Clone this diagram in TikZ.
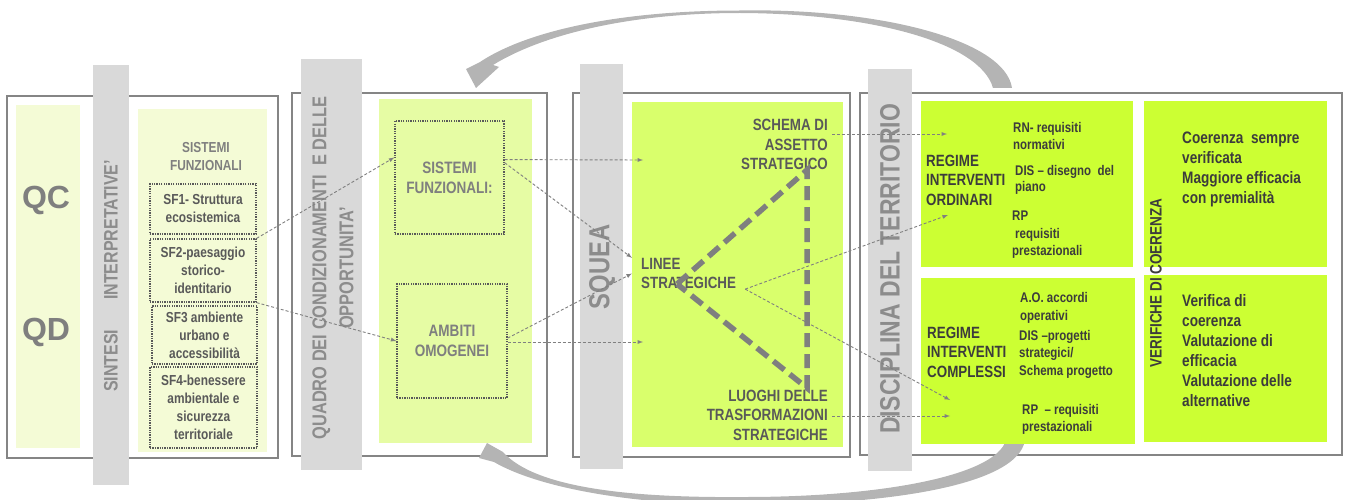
\documentclass[tikz,border=0pt]{standalone}
\usepackage{fontspec}
\setmainfont{Liberation Sans}[FakeStretch=0.82]
\newfontfamily\widefont{Liberation Sans}
\usepackage{tikz}
\usepackage{color}

\definecolor{bargray}{HTML}{D9D9D9}
\definecolor{framegray}{HTML}{858585}
\definecolor{arcgray}{HTML}{B4B4B4}
\definecolor{paleA}{HTML}{F4FBD6}
\definecolor{paleB}{HTML}{E6FCA4}
\definecolor{limeC}{HTML}{D9FF6C}
\definecolor{limeD}{HTML}{CCFF33}
\definecolor{txtlight}{HTML}{7F7F7F}
\definecolor{titlegray}{HTML}{8C8C8C}
\definecolor{txtmid}{HTML}{595959}
\definecolor{txtdark}{HTML}{3C3C3C}
\definecolor{lineg}{HTML}{808080}

\begin{document}
\begin{tikzpicture}[x=1pt,y=-1pt,
  conn/.style={draw=lineg, line width=0.9pt, dash pattern=on 3pt off 2pt, -latex},
  frame/.style={draw=framegray, line width=2pt},
  dotbox/.style={draw=txtmid, line width=1.3pt, dash pattern=on 1.3pt off 1.1pt,
                 inner sep=0pt, align=center},
  bartitle/.style={rotate=90, text=titlegray, align=center, inner sep=0pt},
  small/.style={font=\bfseries\fontsize{14.5}{18}\selectfont},
  mid/.style={font=\bfseries\fontsize{16.3}{19.5}\selectfont},
  txtD/.style={text=txtdark, inner sep=0pt, anchor=west, align=left}]

\useasboundingbox (0,0) rectangle (1346,500);

% les cadres
\draw[frame] (7,96) rectangle (278,458);
\draw[frame] (292,93) rectangle (547,456);
\draw[frame] (573,93) rectangle (850,457);
\draw[frame] (860,93) rectangle (1342,455);

% les deux fleches courbes
\fill[arcgray] (1012,88) .. controls (1005,40) and (880,8) .. (740,10.5)
  .. controls (615,10.5) and (525,32) .. (480,62)
  -- (466,69) -- (476,88) -- (499,67) -- (493,65)
  .. controls (540,36) and (625,13) .. (740,13)
  .. controls (870,13.5) and (980,42) .. (993,88) -- cycle;
\fill[arcgray] (1025,440) .. controls (1018,486) and (885,505) .. (745,505)
  .. controls (625,505) and (535,486) .. (494,462)
  -- (479,458) -- (487,443) -- (503,452)
  .. controls (535,488) and (630,498) .. (745,497)
  .. controls (880,497) and (996,476) .. (1006,440) -- cycle;

% fonds
\fill[paleA] (16,105) rectangle (80,448);
\fill[paleA] (138,109) rectangle (267,452);
\fill[paleB] (379,99) rectangle (532,443);
\fill[limeC] (632,102) rectangle (843,447);
\fill[limeD] (921,101) rectangle (1133,267);
\fill[limeD] (921,278) rectangle (1135,444);
\fill[limeD] (1144,101) rectangle (1327,267);
\fill[limeD] (1144,275) rectangle (1327,442);

% barres grises
\fill[bargray] (93,65) rectangle (129,485);
\fill[bargray] (301,59) rectangle (362,470);
\fill[bargray] (580,64) rectangle (623,469);
\fill[bargray] (868,69) rectangle (912,471);

\node[bartitle, font=\bfseries\fontsize{19.5}{22}\selectfont] (sintesi) at (111,276)
  {SINTESI\hspace{30pt}INTERPRETATIVE'};
\node[bartitle, font=\bfseries\fontsize{20}{27}\selectfont] (quadro) at (333,268)
  {QUADRO DEI CONDIZIONAMENTI\ \ E DELLE\\OPPORTUNITA'};
\node[bartitle, font=\bfseries\fontsize{29}{32}\selectfont] (squea) at (602,267) {SQUEA};
\node[bartitle, font=\bfseries\fontsize{28}{32}\selectfont] (disciplina) at (890,269)
  {DISCIPLINA DEL TERRITORIO};

% QC / QD
\node[text=txtlight, font=\widefont\bfseries\fontsize{32}{32}\selectfont] (qc) at (46,200) {QC};
\node[text=txtlight, font=\widefont\bfseries\fontsize{32}{32}\selectfont] (qd) at (46,332) {QD};

% sistemi funzionali SF1..SF4
\node[small, text=txtlight, align=center, inner sep=0pt] (sfhead) at (206,157) {SISTEMI\\FUNZIONALI};
\node[dotbox, small, text=txtmid, minimum width=106pt, minimum height=50pt] (sf1) at (203,209)
  {SF1- Struttura\\ecosistemica};
\node[dotbox, small, text=txtmid, minimum width=106pt, minimum height=63pt] (sf2) at (203,270.5)
  {SF2-paesaggio\\storico-\\identitario};
\node[dotbox, small, text=txtmid, minimum width=105pt, minimum height=58pt] (sf3) at (204.5,335)
  {SF3 ambiente\\urbano e\\accessibilità};
\node[dotbox, small, text=txtmid, minimum width=107pt, minimum height=81pt] (sf4) at (203.5,407.5)
  {SF4-benessere\\ambientale e\\sicurezza\\territoriale};

% quadro dei condizionamenti
\node[dotbox, text=txtlight, font=\bfseries\fontsize{16.5}{20}\selectfont,
      minimum width=109pt, minimum height=113pt] (sisf) at (449.5,177.5) {SISTEMI\\FUNZIONALI:};
\node[dotbox, text=txtlight, font=\bfseries\fontsize{16.5}{20}\selectfont,
      minimum width=110pt, minimum height=114pt] (ambiti) at (452,341) {AMBITI\\OMOGENEI};

% squea
\node[mid, text=txtmid, anchor=east, align=right, inner xsep=4pt, inner ysep=0pt] (schema)
  at (832,144.5) {SCHEMA DI\\ASSETTO\\STRATEGICO};
\node[mid, text=txtmid, anchor=west, align=left, inner xsep=9pt, inner ysep=0pt] (linee)
  at (632,273.5) {LINEE\\STRATEGICHE};
\node[mid, text=txtmid, anchor=east, align=right, inner xsep=4pt, inner ysep=0pt] (luoghi)
  at (832,415) {LUOGHI DELLE\\TRASFORMAZIONI\\STRATEGICHE};

\coordinate (tl) at (677,284);
\coordinate (tt) at (807,170);
\coordinate (tb) at (807,388);
\draw[draw=txtlight, line width=5.5pt, dash pattern=on 14pt off 7pt] (tl) -- (tt) -- (tb) -- cycle;

% disciplina del territorio
\node[txtD, mid] (rio) at (926,180) {REGIME\\INTERVENTI\\ORDINARI};
\node[txtD, font=\bfseries\fontsize{14}{16.5}\selectfont] (rn) at (1013,136) {RN- requisiti\\normativi};
\node[txtD, font=\bfseries\fontsize{14}{16.5}\selectfont] (dis1) at (1015,180) {DIS -- disegno\ \ del\\piano};
\node[txtD, font=\bfseries\fontsize{14}{17.5}\selectfont] (rp1) at (1012,235) {RP\\\hspace{3pt}requisiti\\prestazionali};
\node[txtD, mid] (ric) at (927,352) {REGIME\\INTERVENTI\\COMPLESSI};
\node[txtD, font=\bfseries\fontsize{14}{17.5}\selectfont] (ao) at (1020,308) {A.O. accordi\\operativi};
\node[txtD, font=\bfseries\fontsize{14}{17.5}\selectfont] (dis2) at (1019,354) {DIS --progetti\\strategici/\\Schema progetto};
\node[txtD, font=\bfseries\fontsize{14}{17}\selectfont] (rp2) at (1022,419) {RP\ \ -- requisiti\\prestazionali};
\node[bartitle, text=txtdark, font=\bfseries\fontsize{16.5}{20}\selectfont] (verif) at (1156,283)
  {VERIFICHE DI COERENZA};
\node[txtD, font=\bfseries\fontsize{16.6}{20}\selectfont] (coer) at (1182,169.5)
  {Coerenza\ \ sempre\\verificata\\Maggiore efficacia\\con premialità};
\node[txtD, font=\bfseries\fontsize{16.6}{20}\selectfont] (valu) at (1182,351)
  {Verifica di\\coerenza\\Valutazione di\\efficacia\\Valutazione delle\\alternative};

% connettori
\coordinate (sfin) at (643,160);
\coordinate (amin) at (643,342);
\coordinate (schin) at (947,134);
\coordinate (rioin) at (948,215);
\coordinate (ricin) at (950,400);
\coordinate (luin) at (950,416);

\draw[conn] (sf2.north east) -- (sisf.160);
\draw[conn] (sf2.south east) -- (ambiti.west);
\draw[conn] (sisf.18) -- (sfin);
\draw[conn] (sisf.15) -- (linee.north west);
\draw[conn] (ambiti.3) -- (linee.west);
\draw[conn] (ambiti.east |- amin) -- (amin);
\draw[conn] (schema.east |- schin) -- (schin);
\draw[conn] (linee.south east) -- (rioin);
\draw[conn] (linee.south east) -- (ricin);
\draw[conn] (luoghi.east |- luin) -- (luin);

\end{tikzpicture}
\end{document}
